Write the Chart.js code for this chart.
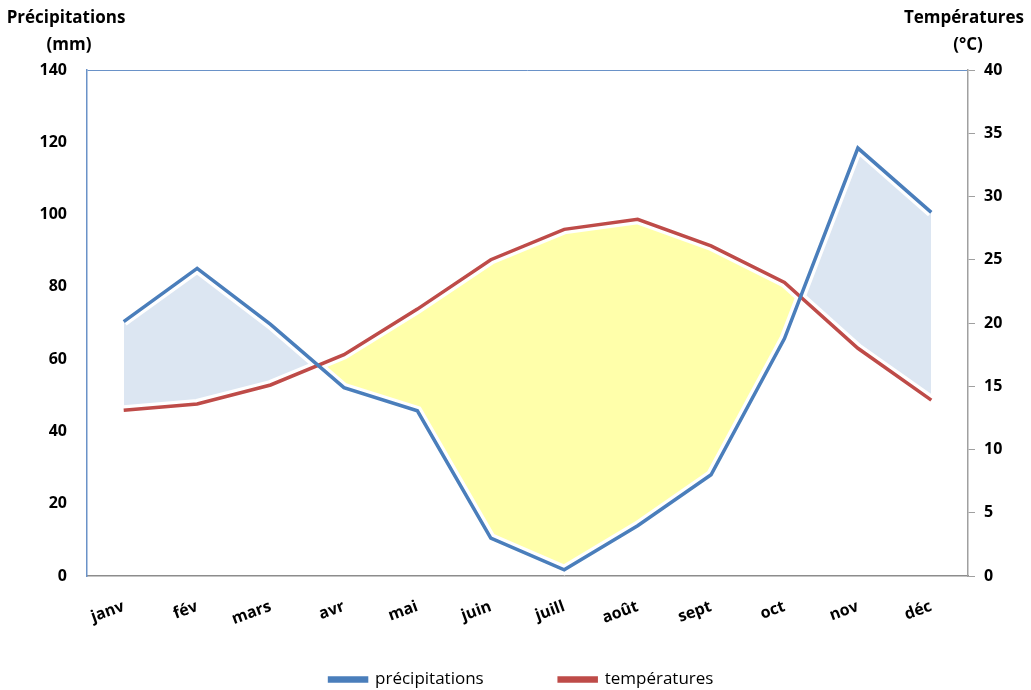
<!DOCTYPE html>
<html>
<head>
<meta charset="utf-8">
<script src="https://cdn.jsdelivr.net/npm/chart.js@4"></script>
<style>
  html, body { margin: 0; padding: 0; background: #fff; }
  #wrap { width: 1031px; height: 690px; position: relative; }
</style>
</head>
<body>
<div id="wrap"><canvas id="climate-chart"></canvas></div>
<script>
const months = ['janv', 'fév', 'mars', 'avr', 'mai', 'juin', 'juill', 'août', 'sept', 'oct', 'nov', 'déc'];
const precipitations = [70.4, 85.1, 69.6, 52.1, 45.7, 10.5, 1.7, 13.9, 28, 65.7, 118.4, 100.6];
const temperatures = [13.1, 13.6, 15.1, 17.5, 21.1, 25, 27.4, 28.2, 26.1, 23.2, 18, 13.9];

const blue = '#4a7ebb';
const red = '#be4b48';
const font = "'Open Sans', 'DejaVu Sans', sans-serif";

// axis titles above both y axes
const axisTitles = {
    id: 'axisTitles',
    afterDraw(chart) {
        const ctx = chart.ctx;
        ctx.save();
        ctx.fillStyle = '#000';
        ctx.font = 'bold 17px ' + font;
        ctx.textAlign = 'center';
        ctx.textBaseline = 'middle';
        ctx.fillText('Précipitations', 66, 18);
        ctx.fillText('(mm)', 69, 45);
        ctx.fillText('Températures', 964, 18);
        ctx.fillText('(°C)', 968, 45);
        ctx.restore();
    }
};

const chartCanvas = document.querySelector('#climate-chart');

var climateChart = new Chart(chartCanvas, {
    type: 'line',
    data: {
        labels: months,
        datasets: [{
            label: 'précipitations',
            data: precipitations,
            yAxisID: 'y',
            borderColor: blue,
            backgroundColor: blue,
            borderWidth: 3.5,
            pointRadius: 0,
            fill: false
        }, {
            label: 'températures',
            data: temperatures,
            yAxisID: 'y1',
            borderColor: red,
            backgroundColor: red,
            borderWidth: 3.5,
            pointRadius: 0,
            fill: false
        }, {
            label: 'halo-p',
            data: precipitations,
            yAxisID: 'y',
            borderColor: '#ffffff',
            borderWidth: 10,
            pointRadius: 0,
            fill: false
        }, {
            label: 'halo-t',
            data: temperatures,
            yAxisID: 'y1',
            borderColor: '#ffffff',
            borderWidth: 10,
            pointRadius: 0,
            fill: false
        }, {
            label: 'zone',
            data: precipitations,
            yAxisID: 'y',
            borderColor: 'rgba(0,0,0,0)',
            borderWidth: 0,
            pointRadius: 0,
            fill: {
                target: 5,
                above: '#dce6f2',
                below: '#ffffaa'
            }
        }, {
            label: 'zone-t',
            data: temperatures,
            yAxisID: 'y1',
            borderColor: 'rgba(0,0,0,0)',
            borderWidth: 0,
            pointRadius: 0,
            fill: false
        }]
    },
    options: {
        responsive: true,
        maintainAspectRatio: false,
        animation: false,
        layout: {
            padding: { top: 70, left: 12, right: 0, bottom: -8 }
        },
        plugins: {
            tooltip: { enabled: false },
            legend: {
                position: 'bottom',
                labels: {
                    boxWidth: 37,
                    boxHeight: 3,
                    padding: 16,
                    color: '#000',
                    font: { family: font, size: 17 },
                    generateLabels: (chart) => {
                        const items = Chart.defaults.plugins.legend.labels.generateLabels(chart)
                            .filter((item) => item.datasetIndex < 2);
                        // widen the first entry so the gap matches the original
                        items[0].text += '\u2003\u2003\u2003\u2002';
                        return items;
                    }
                }
            }
        },
        scales: {
            x: {
                offset: true,
                grid: { display: false, drawTicks: false },
                border: { color: '#8c8c8c', width: 1.5 },
                ticks: {
                    minRotation: 20,
                    maxRotation: 20,
                    padding: 21,
                    labelOffset: 0,
                    color: '#000',
                    font: { family: font, size: 16, weight: 'bold' }
                },
                afterFit: (scale) => { scale.height = 79; }
            },
            y: {
                position: 'left',
                min: 0,
                max: 140,
                ticks: {
                    stepSize: 20,
                    padding: 20,
                    color: '#000',
                    font: { family: font, size: 16, weight: 'bold' }
                },
                grid: {
                    drawTicks: false,
                    color: (c) => c.tick && c.tick.value === 140 ? '#6a92c8' : 'rgba(0,0,0,0)'
                },
                border: { color: '#6a92c8', width: 1.5 },
                afterFit: (scale) => { scale.width = 75; }
            },
            y1: {
                position: 'right',
                min: 0,
                max: 40,
                ticks: {
                    stepSize: 5,
                    padding: 9,
                    color: '#000',
                    font: { family: font, size: 16, weight: 'bold' }
                },
                grid: {
                    drawOnChartArea: false,
                    tickLength: 7,
                    color: '#a0a0a0'
                },
                border: { color: '#a0a0a0', width: 1.5 },
                afterFit: (scale) => { scale.width = 63; }
            }
        }
    },
    plugins: [axisTitles]
});
</script>
</body>
</html>
